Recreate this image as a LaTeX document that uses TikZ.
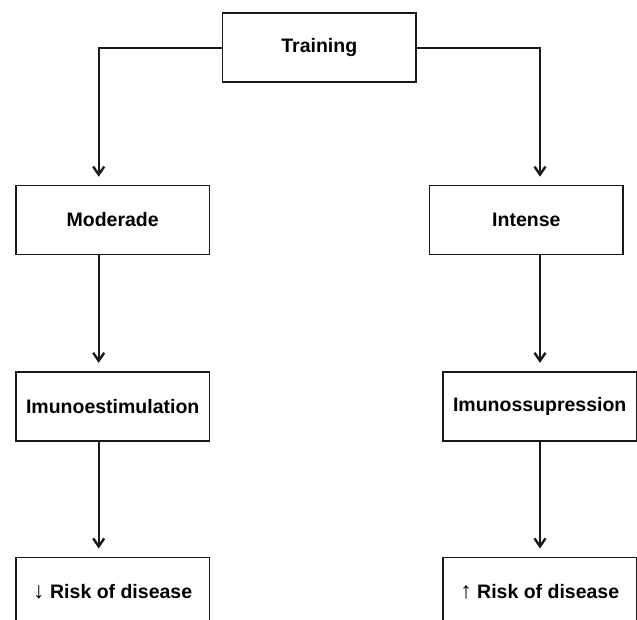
\documentclass[tikz,border=0pt]{standalone}
\usepackage{fontspec}
\setmainfont{Liberation Sans}
\usetikzlibrary{arrows.meta}
\tikzset{
  box/.style={draw=black!90, line width=1.6pt, fill=white, minimum width=193.3pt, minimum height=69pt, inner sep=0pt, font=\fontsize{19.5}{22}\selectfont\bfseries},
  arr/.style={draw=black!90, line width=2pt, -{Straight Barb[length=8pt,width=11pt,line width=2.4pt]}, shorten >=8pt}
}
\begin{document}
\begin{tikzpicture}[x=1pt,y=-1pt]
\useasboundingbox (0,0) rectangle (637,620);
\clip (0,0) rectangle (637,620);
\fill[white] (0,0) rectangle (637,620);
\coordinate (lx) at (98.7,0);
\coordinate (rx) at (540,0);
\node[box] (train) at (319.3,47.7) {Training};
\node[box] (mod) at (112.7,220) {Moderade};
\node[box] (int) at (526.3,220) {Intense};
\node[box] (imE) at (112.7,406.2) {Imunoestimulation};
\node[box] (imS) at (539.7,406.2) {Imunossupression};
\node[box] (riskL) at (112.7,591.8) {{\fontsize{23}{22}\selectfont\mdseries↓} Risk of disease};
\node[box] (riskR) at (539.7,591.8) {{\fontsize{23}{22}\selectfont\mdseries↑} Risk of disease};
\draw[arr] (train.west) -| (lx |- mod.north);
\draw[arr] (train.east) -| (rx |- int.north);
\draw[arr] (lx |- mod.south) -- (lx |- imE.north);
\draw[arr] (lx |- imE.south) -- (lx |- riskL.north);
\draw[arr] (rx |- int.south) -- (rx |- imS.north);
\draw[arr] (rx |- imS.south) -- (rx |- riskR.north);
\end{tikzpicture}
\end{document}
